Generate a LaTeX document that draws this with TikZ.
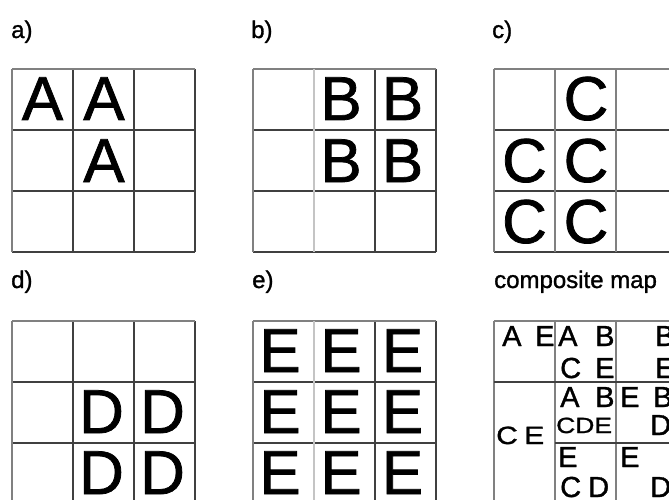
\documentclass[tikz,border=0pt]{standalone}
\usepackage{fontspec}
\setmainfont{Liberation Sans}
\newfontfamily\heavyfont{Liberation Sans}[FakeBold=1.2]
\definecolor{gl}{HTML}{404040}
\definecolor{glmid}{HTML}{808080}
\definecolor{gllight}{HTML}{C4C4C4}
\begin{document}
\begin{tikzpicture}[x=1pt,y=-1pt,
  gridline/.style={draw=gl,line width=1.1pt},
  midline/.style={draw=glmid,line width=1.1pt},
  lightline/.style={draw=gllight,line width=1.1pt},
  big/.style={inner sep=0pt,anchor=base,font=\heavyfont\fontsize{62}{62}\selectfont},
  med/.style={inner sep=0pt,anchor=base west,font=\heavyfont\fontsize{29}{29}\selectfont},
  cmed/.style={inner sep=0pt,anchor=base west,xscale=1.2,font=\heavyfont\fontsize{25}{25}\selectfont},
  sml/.style={inner sep=0pt,anchor=base west,xscale=1.2,font=\heavyfont\fontsize{22}{22}\selectfont},
  lbl/.style={inner sep=0pt,anchor=base west,font=\heavyfont\fontsize{24}{24}\selectfont}]
\useasboundingbox (0,0) rectangle (669,500);
\clip (0,0) rectangle (669,500);
\fill[white] (0,0) rectangle (669,500);

% labels
\node[lbl] (la) at (11,38) {a)};
\node[lbl] (lb) at (251,38) {b)};
\node[lbl] (lc) at (492,38) {c)};
\node[lbl] (ld) at (11,288) {d)};
\node[lbl] (le) at (252,288) {e)};
\node[lbl] (lm) at (494,288) {composite map};

% 3x3 grids
\foreach \gx/\gy in {12/69, 253/69, 494/69, 12/321, 253/321}{
  \draw[gridline] (\gx+61,\gy) -- ++(0,183);
  \draw[gridline] (\gx+122,\gy) -- ++(0,183);
  \draw[gridline] (\gx,\gy+61) -- ++(183,0);
  \draw[gridline] (\gx,\gy+122) -- ++(183,0);
  \draw[gridline] (\gx,\gy+183) -- ++(183,0);
  \draw[gridline] (\gx+183,\gy) -- ++(0,183);
  \draw[midline] (\gx,\gy) -- ++(183,0);
  \draw[midline] (\gx,\gy) -- ++(0,183);
}
% lighter lines
\draw[lightline] (314,69) -- ++(0,183);
\draw[lightline] (314,321) -- ++(0,183);
\draw[midline] (555,69) -- ++(0,183);
\draw[midline] (616,69) -- ++(0,183);
\draw[midline] (12,69) -- ++(0,183);

% composite grid
\draw[midline] (494,321) -- (677,321);
\draw[midline] (494,321) -- (494,504);
\draw[midline] (555,321) -- (555,504);
\draw[midline] (616,321) -- (616,504);
\draw[gridline] (494,382) -- (677,382);
\draw[gridline] (555,443) -- (677,443);

% a)
\node[big] (a11) at (42.5,120) {A};
\node[big] (a12) at (104,120) {A};
\node[big] (a22) at (104,182) {A};
% b)
\node[big] (b12) at (341,120) {B};
\node[big] (b13) at (402.5,120) {B};
\node[big] (b22) at (341,182) {B};
\node[big] (b23) at (402.5,182) {B};
% c)
\node[big] (c12) at (586,120) {C};
\node[big] (c21) at (524.5,182) {C};
\node[big] (c22) at (586,182) {C};
\node[big] (c31) at (524.5,243) {C};
\node[big] (c32) at (586,243) {C};
% d)
\node[big] (d22) at (101.5,433) {D};
\node[big] (d23) at (162.5,433) {D};
\node[big] (d32) at (101.5,494) {D};
\node[big] (d33) at (162.5,494) {D};
% e)
\node[big] (e11) at (280,372) {E};
\node[big] (e12) at (341,372) {E};
\node[big] (e13) at (402.5,372) {E};
\node[big] (e21) at (280,433) {E};
\node[big] (e22) at (341,433) {E};
\node[big] (e23) at (402.5,433) {E};
\node[big] (e31) at (280,494) {E};
\node[big] (e32) at (341,494) {E};
\node[big] (e33) at (402.5,494) {E};

% composite map
\node[med] (m11a) at (502,346) {A};
\node[med] (m11e) at (535,346) {E};
\node[med] (m12a) at (558,346) {A};
\node[med] (m12b) at (595,346) {B};
\node[med] (m12c) at (560,378) {C};
\node[med] (m12e) at (595,378) {E};
\node[med] (m13b) at (655,346) {B};
\node[med] (m13e) at (655,378) {E};
\node[med] (m22a) at (560,407) {A};
\node[med] (m22b) at (595,407) {B};
\node[sml] (m22cde) at (556,433) {CDE};
\node[med] (m23e) at (620,407) {E};
\node[med] (m23b) at (653,407) {B};
\node[med] (m23d) at (650,435) {D};
\node[med] (m32e) at (558,467) {E};
\node[med] (m32c) at (560,497) {C};
\node[med] (m32d) at (588,497) {D};
\node[med] (m33e) at (620,467) {E};
\node[med] (m33d) at (650,497) {D};
\node[cmed] (m2c) at (496,444) {C};
\node[cmed] (m2e) at (524,444) {E};
\end{tikzpicture}
\end{document}
